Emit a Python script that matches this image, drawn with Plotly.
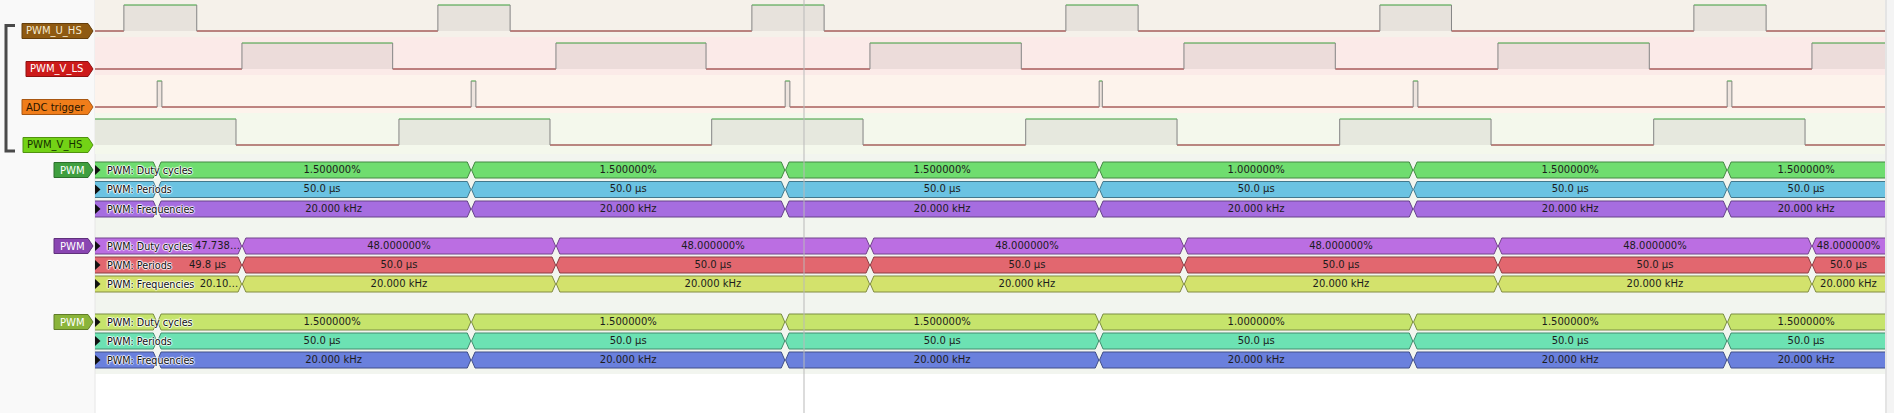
import plotly.graph_objects as go

# ------------------------------------------------------------------ data
W, H = 1894, 413
TRACE_X0_PX, TRACE_X1_PX = 95, 1885
PX_PER_US = 6.28
VIEW_END_US = (TRACE_X1_PX - TRACE_X0_PX) / PX_PER_US

CHANNEL_NAMES = ["PWM_U_HS", "PWM_V_LS", "ADC trigger", "PWM_V_HS"]
# high intervals (µs from left edge of view)
U_HS_HIGH_START = [4.6, 54.6, 104.6, 154.6, 204.6, 254.6]
U_HS_HIGH_END = [16.2, 66.1, 116.1, 166.1, 216.0, 266.1]
V_LS_HIGH_START = [23.4, 73.4, 123.4, 173.4, 223.4, 273.4]
V_LS_HIGH_END = [47.4, 97.3, 147.5, 197.5, 247.5, 297.4]
ADC_HIGH_START = [9.9, 59.9, 109.9, 159.9, 209.9, 259.9]
ADC_HIGH_END = [10.65, 60.65, 110.65, 160.4, 210.65, 260.65]
V_HS_HIGH_START = [-25.6, 48.4, 98.2, 148.2, 198.2, 248.2]
V_HS_HIGH_END = [22.45, 72.45, 122.3, 172.3, 222.3, 272.3]
CURSOR_US = 112.9

# decoder annotations: segment boundaries and labels
PWM1_EDGES = [-40.1, 9.9, 59.9, 109.9, 159.9, 209.9, 259.9, 309.9]
PWM1_DUTY = ["", "1.500000%", "1.500000%", "1.500000%", "1.000000%", "1.500000%", "1.500000%"]
PWM1_PERIOD = ["", "50.0 µs", "50.0 µs", "50.0 µs", "50.0 µs", "50.0 µs", "50.0 µs"]
PWM1_FREQ = ["", "20.000 kHz", "20.000 kHz", "20.000 kHz", "20.000 kHz", "20.000 kHz", "20.000 kHz"]

PWM2_EDGES = [-26.4, 23.4, 73.4, 123.4, 173.4, 223.4, 273.4, 323.4]
PWM2_DUTY = ["47.738…", "48.000000%", "48.000000%", "48.000000%", "48.000000%", "48.000000%", "48.000000%"]
PWM2_PERIOD = ["49.8 µs", "50.0 µs", "50.0 µs", "50.0 µs", "50.0 µs", "50.0 µs", "50.0 µs"]
PWM2_FREQ = ["20.10…", "20.000 kHz", "20.000 kHz", "20.000 kHz", "20.000 kHz", "20.000 kHz", "20.000 kHz"]

PWM3_EDGES = [-40.1, 9.9, 59.9, 109.9, 159.9, 209.9, 259.9, 309.9]
PWM3_DUTY = ["", "1.500000%", "1.500000%", "1.500000%", "1.000000%", "1.500000%", "1.500000%"]
PWM3_PERIOD = ["", "50.0 µs", "50.0 µs", "50.0 µs", "50.0 µs", "50.0 µs", "50.0 µs"]
PWM3_FREQ = ["", "20.000 kHz", "20.000 kHz", "20.000 kHz", "20.000 kHz", "20.000 kHz", "20.000 kHz"]

ROW_TITLES = ["PWM: Duty cycles", "PWM: Periods", "PWM: Frequencies"]
DECODER_NAME = "PWM"

# ------------------------------------------------------------------ style
FONT = "DejaVu Sans, Verdana, sans-serif"
px = lambda p: p / W
us_per_px = 1.0 / PX_PER_US

channel_style = [
    # (low y, high y, band top, band bottom, band color, tag fill, tag text, tag left)
    (31, 5, 0, 37, "#f5f1ea", "#8f5a12", "#f6ead0", 22),
    (69, 43, 37, 75, "#fbeae8", "#cc1a1a", "#ffffff", 26),
    (107, 81, 75, 113, "#fdf3ec", "#f07d1a", "#2a1500", 22),
    (145, 119, 113, 154, "#f4f8ec", "#73d216", "#143000", 23),
]
channel_data = [
    (U_HS_HIGH_START, U_HS_HIGH_END),
    (V_LS_HIGH_START, V_LS_HIGH_END),
    (ADC_HIGH_START, ADC_HIGH_END),
    (V_HS_HIGH_START, V_HS_HIGH_END),
]

decoder_groups = [
    dict(edges=PWM1_EDGES, rows=[PWM1_DUTY, PWM1_PERIOD, PWM1_FREQ],
         yc=[170, 189.5, 209], colors=["#6fdd6f", "#6bc3e2", "#a66de0"], tag="#3f9f3f"),
    dict(edges=PWM2_EDGES, rows=[PWM2_DUTY, PWM2_PERIOD, PWM2_FREQ],
         yc=[246, 265, 284], colors=["#bb6ee2", "#e2676f", "#d3e26c"], tag="#8a46b2"),
    dict(edges=PWM3_EDGES, rows=[PWM3_DUTY, PWM3_PERIOD, PWM3_FREQ],
         yc=[322, 341, 360], colors=["#c6e46c", "#6ce2b3", "#6a80dd"], tag="#8ab43a"),
]
TITLE_END_PX = [193, 173, 196]
BAR_HALF = 8
TIP_US = 3.5 * us_per_px
GAP_US = 0.4 * us_per_px


def darker(hexcol, f=0.62):
    r, g, b = (int(hexcol[i:i + 2], 16) for i in (1, 3, 5))
    return "#%02x%02x%02x" % (int(r * f), int(g * f), int(b * f))


fig = go.Figure()
shapes = []
annotations = []

# backgrounds
shapes.append(dict(type="rect", xref="paper", yref="y", x0=0, x1=px(TRACE_X0_PX), y0=0, y1=H,
                   fillcolor="#f9f9f9", line_width=0, layer="below"))
shapes.append(dict(type="rect", xref="paper", yref="y", x0=px(TRACE_X0_PX), x1=px(TRACE_X1_PX), y0=154, y1=374,
                   fillcolor="#f2f5ef", line_width=0, layer="below"))
shapes.append(dict(type="rect", xref="paper", yref="y", x0=px(TRACE_X1_PX), x1=1, y0=0, y1=H,
                   fillcolor="#f4f4f4", line_width=0, layer="below"))
shapes.append(dict(type="line", xref="paper", yref="y", x0=px(TRACE_X0_PX), x1=px(TRACE_X0_PX), y0=0, y1=H,
                   line=dict(color="#e6e6e6", width=1), layer="below"))
shapes.append(dict(type="line", xref="paper", yref="y", x0=px(TRACE_X1_PX + 1), x1=px(TRACE_X1_PX + 1), y0=0, y1=H,
                   line=dict(color="#d4d4d4", width=1), layer="below"))

# ---------------------------------------------------------------- logic channels
for name, (starts, ends), st in zip(CHANNEL_NAMES, channel_data, channel_style):
    ylo, yhi, b0, b1, band, tagc, tagt, tagl = st
    shapes.append(dict(type="rect", xref="paper", yref="y", x0=px(TRACE_X0_PX), x1=px(TRACE_X1_PX),
                       y0=b0, y1=b1, fillcolor=band, line_width=0, layer="below"))
    fx, fy, hx, hy, lx, ly, ex, ey = [], [], [], [], [], [], [], []
    prev = -60.0
    for s, e in zip(starts, ends):
        fx += [s, e, e, s, s, None]
        fy += [yhi, yhi, ylo, ylo, yhi, None]
        hx += [s, e, None]
        hy += [yhi, yhi, None]
        lx += [prev, s, None]
        ly += [ylo, ylo, None]
        ex += [s, s, None, e, e, None]
        ey += [ylo, yhi, None, ylo, yhi, None]
        prev = e
    lx += [prev, VIEW_END_US + 60, None]
    ly += [ylo, ylo, None]
    fig.add_trace(go.Scatter(x=fx, y=fy, mode="lines", fill="toself", fillcolor="rgba(110,100,95,0.10)",
                             line=dict(width=0), hoverinfo="skip", showlegend=False))
    fig.add_trace(go.Scatter(x=lx, y=ly, mode="lines", line=dict(color="#7e1414", width=1),
                             hoverinfo="skip", showlegend=False))
    fig.add_trace(go.Scatter(x=hx, y=hy, mode="lines", line=dict(color="#3a9c3a", width=1),
                             hoverinfo="skip", showlegend=False))
    fig.add_trace(go.Scatter(x=ex, y=ey, mode="lines", line=dict(color="#848484", width=1),
                             hoverinfo="skip", showlegend=False))
    # channel tag
    L, R, hh = tagl, 93, 7.5
    path = (f"M{px(L)},{ylo - hh} L{px(R - 5)},{ylo - hh} L{px(R)},{ylo} "
            f"L{px(R - 5)},{ylo + hh} L{px(L)},{ylo + hh} Z")
    shapes.append(dict(type="path", xref="paper", yref="y", path=path, fillcolor=tagc,
                       line=dict(color=darker(tagc, 0.7), width=1)))
    annotations.append(dict(xref="paper", yref="y", x=px(L + 2), y=ylo, xanchor="left", yanchor="middle",
                            text=name, showarrow=False, font=dict(family=FONT, size=10, color=tagt)))

# group bracket
shapes.append(dict(type="path", xref="paper", yref="y",
                   path=f"M{px(15)},25.5 L{px(6)},25.5 L{px(6)},151 L{px(15)},151",
                   line=dict(color="#4a4a4a", width=3)))

# ---------------------------------------------------------------- decoders
for grp in decoder_groups:
    edges = grp["edges"]
    for r, (labels, yc, col) in enumerate(zip(grp["rows"], grp["yc"], grp["colors"])):
        xs, ys, tx, ty, tt = [], [], [], [], []
        title_end_us = (TITLE_END_PX[r] - TRACE_X0_PX) * us_per_px
        for a, b, lab in zip(edges[:-1], edges[1:], labels):
            a0, b0 = a + GAP_US, b - GAP_US
            xs += [a0, a0 + TIP_US, b0 - TIP_US, b0, b0 - TIP_US, a0 + TIP_US, a0, None]
            ys += [yc, yc - BAR_HALF, yc - BAR_HALF, yc, yc + BAR_HALF, yc + BAR_HALF, yc, None]
            lo = max(a, title_end_us) if a < title_end_us else a
            hi = min(b, VIEW_END_US)
            if lab and hi > lo:
                tx.append((lo + hi) / 2)
                ty.append(yc)
                tt.append(lab)
        fig.add_trace(go.Scatter(x=xs, y=ys, mode="lines", fill="toself", fillcolor=col,
                                 line=dict(color=darker(col), width=1), hoverinfo="skip", showlegend=False))
        fig.add_trace(go.Scatter(x=tx, y=ty, mode="text", text=tt, textposition="middle center",
                                 textfont=dict(family=FONT, size=10, color="#1c1c1c"),
                                 hoverinfo="skip", showlegend=False))
        # row title with white halo
        annotations.append(dict(xref="paper", yref="y", x=px(105), y=yc, xanchor="left", yanchor="middle",
                                text=ROW_TITLES[r], showarrow=False,
                                font=dict(family=FONT, size=9.6, color="#101010",
                                          shadow="1px 0 1px #fff, -1px 0 1px #fff, 0 1px 1px #fff, 0 -1px 1px #fff")))
        # small black triangle
        shapes.append(dict(type="path", xref="paper", yref="y",
                           path=f"M{px(95)},{yc - 5} L{px(100.5)},{yc} L{px(95)},{yc + 5} Z",
                           fillcolor="#111111", line_width=0))
    # decoder tag
    yc0 = grp["yc"][0]
    L, R, hh = 54, 93, 7.5
    path = (f"M{px(L)},{yc0 - hh} L{px(R - 5)},{yc0 - hh} L{px(R)},{yc0} "
            f"L{px(R - 5)},{yc0 + hh} L{px(L)},{yc0 + hh} Z")
    shapes.append(dict(type="path", xref="paper", yref="y", path=path, fillcolor=grp["tag"],
                       line=dict(color=darker(grp["tag"], 0.7), width=1)))
    annotations.append(dict(xref="paper", yref="y", x=px(L + 4), y=yc0, xanchor="left", yanchor="middle",
                            text=DECODER_NAME, showarrow=False, font=dict(family=FONT, size=10, color="#ffffff")))

# cursor
shapes.append(dict(type="line", xref="x", yref="y", x0=CURSOR_US, x1=CURSOR_US, y0=0, y1=H,
                   line=dict(color="#b9b9b9", width=1)))

fig.update_layout(
    width=W, height=H, margin=dict(l=0, r=0, t=0, b=0),
    paper_bgcolor="#ffffff", plot_bgcolor="rgba(0,0,0,0)",
    xaxis=dict(range=[0, VIEW_END_US], domain=[px(TRACE_X0_PX), px(TRACE_X1_PX)], visible=False, fixedrange=True),
    yaxis=dict(range=[H, 0], domain=[0, 1], visible=False, fixedrange=True),
    shapes=shapes, annotations=annotations, showlegend=False,
)
fig.write_html("out.html", config={"displayModeBar": False},
               post_script="document.body.style.margin='0';document.body.style.overflow='hidden';")
